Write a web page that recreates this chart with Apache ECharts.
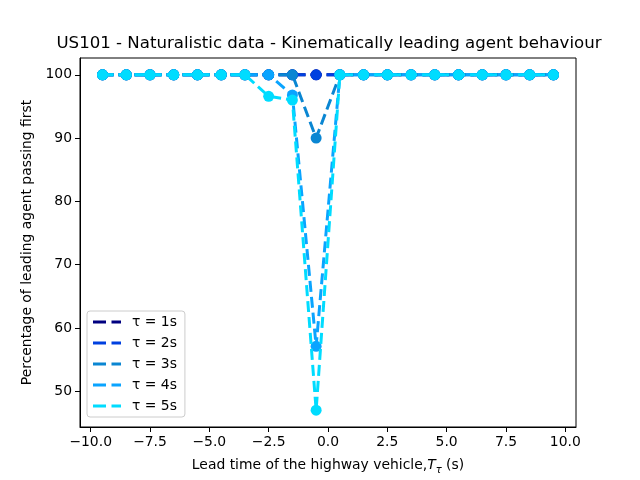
<!DOCTYPE html>
<html>
<head>
<meta charset="utf-8">
<script src="https://cdn.jsdelivr.net/npm/echarts@6/dist/echarts.min.js"></script>
<style>
  html, body { margin: 0; padding: 0; background: #fff; }
  #chart { width: 640px; height: 480px; }
</style>
</head>
<body>
<div id="chart"></div>
<script>
// Lead time bins (s)
const leadTimes = [-9.5, -8.5, -7.5, -6.5, -5.5, -4.5, -3.5, -2.5, -1.5, -0.5,
                   0.5, 1.5, 2.5, 3.5, 4.5, 5.5, 6.5, 7.5, 8.5, 9.5];

// Percentage of leading agent passing first, per tau
const tau1 = [100, 100, 100, 100, 100, 100, 100, 100, 100, 100, 100, 100, 100, 100, 100, 100, 100, 100, 100, 100];
const tau2 = [100, 100, 100, 100, 100, 100, 100, 100, 100, 100, 100, 100, 100, 100, 100, 100, 100, 100, 100, 100];
const tau3 = [100, 100, 100, 100, 100, 100, 100, 100, 100, 90, 100, 100, 100, 100, 100, 100, 100, 100, 100, 100];
const tau4 = [100, 100, 100, 100, 100, 100, 100, 100, 96.8, 57.1, 100, 100, 100, 100, 100, 100, 100, 100, 100, 100];
const tau5 = [100, 100, 100, 100, 100, 100, 100, 96.6, 96.0, 47, 100, 100, 100, 100, 100, 100, 100, 100, 100, 100];

const seriesNames = ['τ = 1s', 'τ = 2s', 'τ = 3s', 'τ = 4s', 'τ = 5s'];
const seriesValues = [tau1, tau2, tau3, tau4, tau5];
const colors = ['#000080', '#0040e0', '#0a86d2', '#0aa4ff', '#00dcff'];

const xTicks = [-10, -7.5, -5, -2.5, 0, 2.5, 5, 7.5, 10];
const yTicks = [50, 60, 70, 80, 90, 100];

const FONT = 'DejaVu Sans';
const chart = echarts.init(document.getElementById('chart'));

const option = {
  animation: false,
  backgroundColor: '#fff',
  textStyle: { fontFamily: FONT },
  title: {
    text: 'US101 - Naturalistic data - Kinematically leading agent behaviour',
    left: 324,
    top: 30,
    textAlign: 'center',
    textStyle: { fontFamily: FONT, fontSize: 16.6, fontWeight: 'normal', color: '#000' }
  },
  grid: {
    left: 80, right: 64, top: 58, bottom: 53,
    show: true, borderColor: '#000', borderWidth: 1, backgroundColor: 'transparent'
  },
  legend: {
    orient: 'vertical',
    left: 87,
    top: 311,
    padding: [4, 8, 4, 6],
    itemGap: 7,
    itemWidth: 28,
    itemHeight: 3,
    icon: 'path://M0,0H13V3H0Z M18.5,0H28V3H18.5Z',
    borderColor: '#cccccc',
    borderWidth: 1,
    borderRadius: 3,
    backgroundColor: 'rgba(255,255,255,0.8)',
    textStyle: { fontFamily: FONT, fontSize: 13.9, color: '#000', lineHeight: 14, padding: [0, 0, 0, 6] },
    data: seriesNames
  },
  xAxis: {
    type: 'value',
    min: -10.45,
    max: 10.45,
    name: '{a|Lead time of the highway vehicle,}{t|T}{s|τ}{a| (s)}',
    nameLocation: 'middle',
    nameGap: 28,
    nameTextStyle: {
      rich: {
        a: { fontFamily: FONT, fontSize: 13.9, color: '#000', lineHeight: 20 },
        t: { fontFamily: FONT, fontSize: 13.9, fontStyle: 'italic', color: '#000', lineHeight: 20 },
        s: { fontFamily: FONT, fontSize: 10, fontStyle: 'italic', color: '#000', lineHeight: 20, verticalAlign: 'bottom', padding: [7, 0, 0, 0] }
      }
    },
    axisLine: { onZero: false, lineStyle: { color: '#000', width: 1 } },
    axisTick: { show: true, length: 5, lineStyle: { color: '#000' }, customValues: xTicks },
    axisLabel: {
      customValues: xTicks,
      margin: 8,
      fontFamily: FONT, fontSize: 13.9, color: '#000',
      formatter: v => v.toFixed(1).replace('-', '\u2212')
    },
    splitLine: { show: false }
  },
  yAxis: {
    type: 'value',
    min: 44.35,
    max: 102.65,
    name: 'Percentage of leading agent passing first',
    nameLocation: 'middle',
    nameGap: 41,
    nameTextStyle: { fontFamily: FONT, fontSize: 13.9, color: '#000' },
    axisLine: { show: true, onZero: false, lineStyle: { color: '#000', width: 1 } },
    axisTick: { show: true, length: 5, lineStyle: { color: '#000' }, customValues: yTicks },
    axisLabel: {
      customValues: yTicks,
      margin: 8,
      fontFamily: FONT, fontSize: 13.9, color: '#000',
      formatter: v => String(v)
    },
    splitLine: { show: false }
  },
  series: seriesNames.map((name, i) => ({
    name: name,
    type: 'line',
    data: leadTimes.map((x, j) => [x, seriesValues[i][j]]),
    symbol: 'circle',
    symbolSize: 11,
    z: 2 + i,
    itemStyle: { color: colors[i] },
    lineStyle: { color: colors[i], width: 3, type: [11, 5] }
  }))
};

chart.setOption(option);
</script>
</body>
</html>
